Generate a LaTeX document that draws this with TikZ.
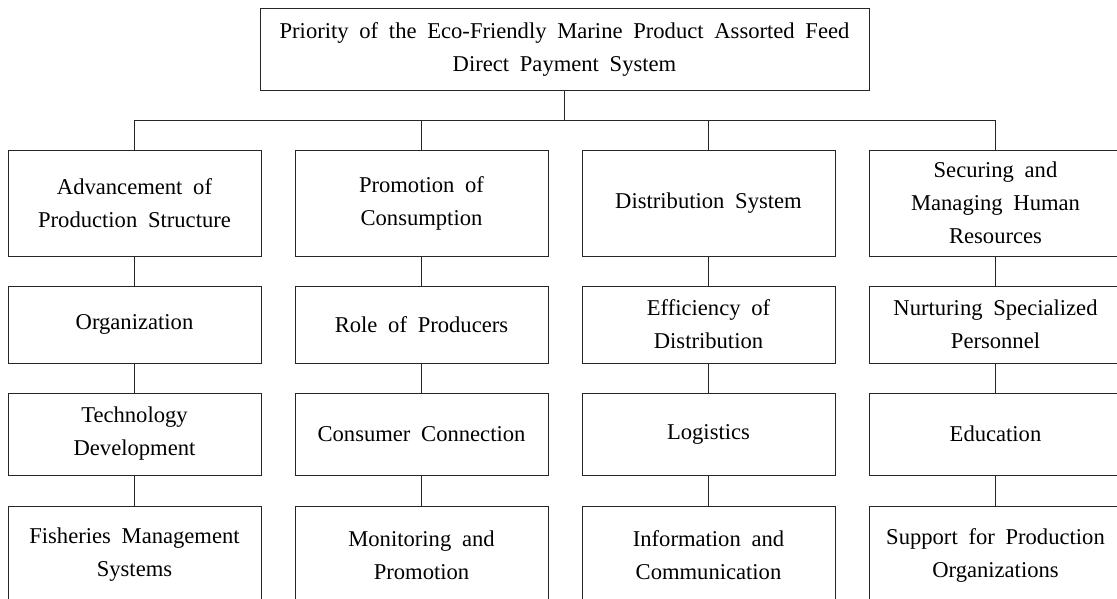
\documentclass[tikz,border=0pt]{standalone}
\usepackage{fontspec}
\setmainfont{Liberation Serif}[WordSpace=1.9]
\begin{document}
\begin{tikzpicture}[x=1pt,y=-1pt,
  box/.style={draw=black!85, line width=0.9pt, align=center, inner sep=0pt,
    minimum width=253pt, font=\fontsize{22.6}{33}\selectfont},
  link/.style={draw=black!85, line width=0.9pt}]
\clip (0,0) rectangle (1117,598);
\fill[white] (0,0) rectangle (1117,598);

\node[box, minimum width=609pt, minimum height=82pt] (top) at (564.5,49)
  {Priority of the Eco-Friendly Marine Product Assorted Feed\\Direct Payment System};

% row 1
\node[box, minimum height=106pt] (a1) at (134.5,203) {Advancement of\\Production Structure};
\node[box, minimum height=106pt] (b1) at (421.5,203) {Promotion of\\Consumption};
\node[box, minimum height=106pt] (c1) at (708.5,203) {Distribution System};
\node[box, minimum height=106pt] (d1) at (995.5,203) {Securing and\\Managing Human\\Resources};
% row 2
\node[box, minimum height=77pt] (a2) at (134.5,324.5) {Organization};
\node[box, minimum height=77pt] (b2) at (421.5,324.5) {Role of Producers};
\node[box, minimum height=77pt] (c2) at (708.5,324.5) {Efficiency of\\Distribution};
\node[box, minimum height=77pt] (d2) at (995.5,324.5) {Nurturing Specialized\\Personnel};
% row 3
\node[box, minimum height=82pt] (a3) at (134.5,434) {Technology\\Development};
\node[box, minimum height=82pt] (b3) at (421.5,434) {Consumer Connection};
\node[box, minimum height=82pt] (c3) at (708.5,434) {Logistics};
\node[box, minimum height=82pt] (d3) at (995.5,434) {Education};
% row 4
\node[box, minimum height=98pt] (a4) at (134.5,555) {Fisheries Management\\Systems};
\node[box, minimum height=98pt] (b4) at (421.5,555) {Monitoring and\\Promotion};
\node[box, minimum height=98pt] (c4) at (708.5,555) {Information and\\Communication};
\node[box, minimum height=98pt] (d4) at (995.5,555) {Support for Production\\Organizations};

\coordinate (bar) at (564.5,120);
\draw[link] (top.south) -- (bar);
\draw[link] (a1.north) -- (a1.north |- bar) -- (d1.north |- bar) -- (d1.north);
\draw[link] (b1.north) -- (b1.north |- bar);
\draw[link] (c1.north) -- (c1.north |- bar);

\foreach \c in {a,b,c,d}{
  \draw[link] (\c1.south) -- (\c2.north);
  \draw[link] (\c2.south) -- (\c3.north);
  \draw[link] (\c3.south) -- (\c4.north);
}
\end{tikzpicture}
\end{document}
